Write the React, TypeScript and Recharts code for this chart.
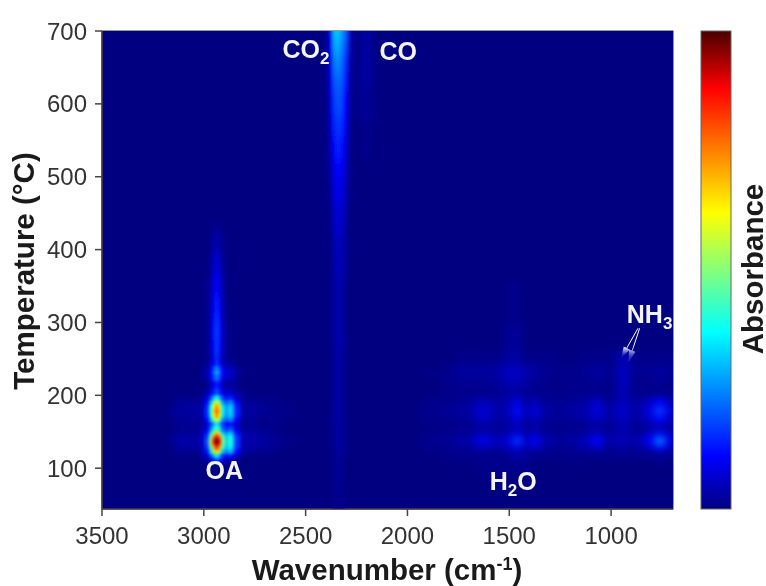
import React from 'react';
import { ComposedChart, Scatter, XAxis, YAxis, ReferenceArea, ReferenceLine } from 'recharts';

const xTicks = [3500, 3000, 2500, 2000, 1500, 1000];
const yTicks = [100, 200, 300, 400, 500, 600, 700];

// jet colour scale, shared by the heatmap and the colour bar
const jetStops: Array<[number, number[]]> = [
  [0, [0, 0, 128]],
  [0.11, [0, 0, 255]],
  [0.37, [0, 255, 255]],
  [0.62, [255, 255, 0]],
  [0.88, [255, 0, 0]],
  [1, [74, 0, 0]],
];

// oleic acid bands
const oaWavenumbers = [3010, 2985, 2965, 2950, 2935, 2920, 2905, 2885, 2870, 2855, 2835, 2800];

// the long faint streak above the peaks
const oaStreakTemps = [410, 380, 350, 320, 290, 260];
const oaStreakValues = [
  [0, 0, 0.01, 0.03, 0.04, 0.03, 0.01, 0, 0, 0, 0, 0],
  [0, 0, 0.02, 0.05, 0.08, 0.05, 0.02, 0, 0, 0, 0, 0],
  [0, 0.01, 0.03, 0.08, 0.11, 0.08, 0.03, 0, 0, 0, 0, 0],
  [0, 0.01, 0.04, 0.1, 0.14, 0.1, 0.04, 0.01, 0, 0, 0, 0],
  [0, 0.01, 0.05, 0.12, 0.17, 0.12, 0.05, 0.01, 0.01, 0, 0, 0],
  [0, 0.01, 0.05, 0.11, 0.17, 0.11, 0.05, 0.01, 0.01, 0, 0, 0],
];

const oaTemps = [245, 236, 230, 224, 214, 204, 196, 190, 184, 178, 172, 166, 160, 154, 148, 144, 140, 136, 132, 128, 122, 116, 110];
const oaValues = [
  [0, 0.01, 0.06, 0.11, 0.17, 0.11, 0.05, 0.02, 0.03, 0.02, 0, 0],
  [0.01, 0.03, 0.09, 0.18, 0.25, 0.18, 0.09, 0.05, 0.06, 0.05, 0.02, 0],
  [0.01, 0.04, 0.11, 0.22, 0.3, 0.22, 0.11, 0.06, 0.08, 0.06, 0.03, 0.01],
  [0.01, 0.03, 0.09, 0.17, 0.24, 0.17, 0.09, 0.05, 0.06, 0.05, 0.02, 0],
  [0, 0.01, 0.05, 0.1, 0.15, 0.1, 0.05, 0.02, 0.03, 0.02, 0.01, 0],
  [0.01, 0.03, 0.08, 0.14, 0.2, 0.14, 0.08, 0.05, 0.06, 0.05, 0.03, 0.01],
  [0.02, 0.07, 0.17, 0.3, 0.38, 0.3, 0.16, 0.12, 0.15, 0.12, 0.06, 0.02],
  [0.03, 0.11, 0.28, 0.48, 0.58, 0.48, 0.26, 0.2, 0.26, 0.2, 0.1, 0.02],
  [0.04, 0.14, 0.36, 0.62, 0.74, 0.62, 0.34, 0.26, 0.33, 0.27, 0.13, 0.03],
  [0.04, 0.15, 0.38, 0.66, 0.79, 0.66, 0.36, 0.27, 0.35, 0.28, 0.14, 0.03],
  [0.04, 0.14, 0.36, 0.62, 0.75, 0.62, 0.34, 0.26, 0.33, 0.27, 0.13, 0.03],
  [0.03, 0.11, 0.28, 0.48, 0.58, 0.48, 0.26, 0.2, 0.26, 0.2, 0.1, 0.02],
  [0.02, 0.06, 0.16, 0.28, 0.36, 0.28, 0.15, 0.11, 0.13, 0.11, 0.05, 0.02],
  [0.03, 0.08, 0.22, 0.36, 0.46, 0.36, 0.2, 0.16, 0.2, 0.16, 0.08, 0.02],
  [0.04, 0.12, 0.32, 0.52, 0.66, 0.52, 0.3, 0.25, 0.31, 0.25, 0.11, 0.03],
  [0.05, 0.16, 0.44, 0.7, 0.85, 0.7, 0.42, 0.31, 0.39, 0.31, 0.15, 0.04],
  [0.05, 0.18, 0.5, 0.82, 0.95, 0.82, 0.48, 0.33, 0.42, 0.33, 0.16, 0.04],
  [0.05, 0.2, 0.54, 0.87, 1, 0.87, 0.5, 0.34, 0.43, 0.34, 0.16, 0.04],
  [0.05, 0.18, 0.5, 0.82, 0.95, 0.82, 0.48, 0.33, 0.42, 0.33, 0.16, 0.04],
  [0.05, 0.16, 0.44, 0.7, 0.85, 0.7, 0.42, 0.31, 0.39, 0.31, 0.15, 0.04],
  [0.04, 0.12, 0.32, 0.52, 0.66, 0.52, 0.3, 0.25, 0.3, 0.25, 0.11, 0.03],
  [0.02, 0.06, 0.16, 0.28, 0.36, 0.28, 0.14, 0.1, 0.13, 0.1, 0.05, 0.01],
  [0.01, 0.02, 0.07, 0.13, 0.18, 0.13, 0.07, 0.03, 0.04, 0.03, 0.01, 0],
];

// CO2 band
const co2Wavenumbers = [2395, 2375, 2360, 2345, 2330, 2315, 2300, 2280];
const co2Temps = [720, 700, 680, 655, 630, 600, 570, 540, 510, 480, 440, 390, 340, 290, 240, 190, 140, 90, 60];
const co2Values = [
  [0.02, 0.13, 0.3, 0.32, 0.3, 0.25, 0.2, 0.06],
  [0.02, 0.13, 0.3, 0.32, 0.3, 0.25, 0.2, 0.06],
  [0.02, 0.12, 0.27, 0.29, 0.27, 0.23, 0.18, 0.05],
  [0.02, 0.1, 0.23, 0.25, 0.24, 0.2, 0.15, 0.04],
  [0.02, 0.09, 0.19, 0.21, 0.21, 0.18, 0.13, 0.03],
  [0.01, 0.08, 0.16, 0.19, 0.19, 0.16, 0.11, 0.02],
  [0.01, 0.07, 0.14, 0.16, 0.16, 0.14, 0.09, 0.02],
  [0.01, 0.05, 0.11, 0.14, 0.14, 0.11, 0.07, 0.01],
  [0.01, 0.04, 0.09, 0.11, 0.11, 0.09, 0.05, 0.01],
  [0, 0.03, 0.07, 0.09, 0.09, 0.07, 0.04, 0.01],
  [0, 0.02, 0.05, 0.07, 0.07, 0.05, 0.03, 0],
  [0, 0.01, 0.03, 0.05, 0.05, 0.04, 0.02, 0],
  [0, 0.01, 0.02, 0.04, 0.04, 0.03, 0.01, 0],
  [0, 0.01, 0.02, 0.04, 0.04, 0.03, 0.01, 0],
  [0, 0.01, 0.02, 0.03, 0.03, 0.02, 0.01, 0],
  [0, 0.01, 0.02, 0.03, 0.03, 0.02, 0.01, 0],
  [0, 0.01, 0.01, 0.03, 0.03, 0.02, 0.01, 0],
  [0, 0, 0.01, 0.02, 0.02, 0.01, 0, 0],
  [0, 0, 0.01, 0.01, 0.01, 0.01, 0, 0],
];

// faint CO band
const coWavenumbers = [2240, 2215, 2190, 2165];
const coTemps = [700, 650, 600, 550];
const coValues = [
  [0.01, 0.03, 0.03, 0.01],
  [0.01, 0.03, 0.03, 0.01],
  [0.01, 0.02, 0.02, 0.01],
  [0, 0.01, 0.01, 0],
];

// H2O and NH3 region
const waterWavenumbers = [1890, 1795, 1720, 1630, 1545, 1500, 1460, 1415, 1365, 1305, 1205, 1130, 1070, 1005, 955, 925, 860, 810, 760, 710];
const waterTemps = [330, 280, 250, 238, 230, 220, 205, 190, 178, 166, 155, 147, 137, 127, 117, 100];
const waterValues = [
  [0, 0, 0, 0, 0, 0.01, 0.01, 0, 0, 0, 0, 0, 0, 0, 0, 0, 0, 0, 0, 0],
  [0, 0, 0, 0, 0, 0.02, 0.02, 0, 0, 0, 0, 0, 0, 0, 0, 0, 0, 0, 0, 0],
  [0, 0, 0.01, 0.01, 0.01, 0.03, 0.03, 0.01, 0.01, 0.01, 0, 0.01, 0.01, 0.01, 0.04, 0.04, 0.01, 0.01, 0.01, 0.01],
  [0, 0.01, 0.02, 0.02, 0.03, 0.05, 0.05, 0.03, 0.02, 0.01, 0.01, 0.01, 0.02, 0.01, 0.05, 0.05, 0.01, 0.01, 0.02, 0.01],
  [0.01, 0.01, 0.03, 0.03, 0.04, 0.06, 0.06, 0.04, 0.03, 0.02, 0.01, 0.02, 0.03, 0.02, 0.06, 0.05, 0.02, 0.02, 0.03, 0.02],
  [0, 0.01, 0.02, 0.02, 0.03, 0.05, 0.05, 0.03, 0.02, 0.01, 0.01, 0.01, 0.02, 0.01, 0.05, 0.05, 0.01, 0.01, 0.02, 0.01],
  [0, 0.01, 0.01, 0.01, 0.02, 0.03, 0.03, 0.02, 0.01, 0.01, 0.01, 0.01, 0.01, 0.01, 0.05, 0.04, 0.01, 0.01, 0.01, 0.01],
  [0.01, 0.01, 0.02, 0.05, 0.03, 0.04, 0.09, 0.03, 0.05, 0.02, 0.02, 0.03, 0.06, 0.02, 0.05, 0.05, 0.03, 0.06, 0.11, 0.05],
  [0.01, 0.02, 0.03, 0.07, 0.04, 0.05, 0.12, 0.05, 0.08, 0.03, 0.03, 0.04, 0.08, 0.04, 0.06, 0.06, 0.04, 0.09, 0.17, 0.08],
  [0.01, 0.01, 0.02, 0.05, 0.03, 0.04, 0.08, 0.03, 0.05, 0.02, 0.02, 0.03, 0.05, 0.03, 0.05, 0.05, 0.03, 0.06, 0.11, 0.05],
  [0, 0.01, 0.01, 0.02, 0.02, 0.02, 0.04, 0.02, 0.02, 0.01, 0.01, 0.01, 0.02, 0.01, 0.04, 0.04, 0.01, 0.02, 0.03, 0.02],
  [0.01, 0.01, 0.02, 0.05, 0.03, 0.05, 0.09, 0.04, 0.06, 0.02, 0.02, 0.03, 0.06, 0.03, 0.04, 0.04, 0.03, 0.06, 0.12, 0.05],
  [0.01, 0.02, 0.04, 0.09, 0.06, 0.09, 0.17, 0.07, 0.11, 0.04, 0.03, 0.05, 0.11, 0.04, 0.05, 0.05, 0.05, 0.11, 0.24, 0.1],
  [0.01, 0.01, 0.02, 0.05, 0.03, 0.05, 0.09, 0.04, 0.06, 0.02, 0.02, 0.03, 0.06, 0.02, 0.03, 0.03, 0.03, 0.06, 0.12, 0.05],
  [0, 0.01, 0.01, 0.01, 0.01, 0.02, 0.03, 0.02, 0.01, 0.01, 0.01, 0.01, 0.01, 0.01, 0.01, 0.01, 0.01, 0.01, 0.02, 0.01],
  [0, 0, 0, 0.01, 0.01, 0.01, 0.01, 0.01, 0, 0, 0, 0, 0, 0, 0, 0, 0, 0, 0, 0],
];

// faint shoulders either side of the OA bands
const sideWavenumbers = [3150, 3100, 3060, 2760, 2700, 2640, 2580];
const sideTemps = [190, 178, 166, 147, 137, 127];
const sideValues = [
  [0, 0.01, 0.02, 0.02, 0.01, 0.01, 0],
  [0.01, 0.02, 0.03, 0.03, 0.02, 0.01, 0.01],
  [0, 0.01, 0.02, 0.02, 0.01, 0.01, 0],
  [0, 0.01, 0.02, 0.03, 0.02, 0.01, 0],
  [0.01, 0.02, 0.04, 0.04, 0.03, 0.02, 0.01],
  [0, 0.01, 0.02, 0.03, 0.02, 0.01, 0],
];

const bandLabels = [
  { wn: 2614, temp: 663, text: 'CO', sub: '2' },
  { wn: 2137, temp: 660, text: 'CO', sub: '' },
  { wn: 2992, temp: 85, text: 'OA', sub: '' },
  { wn: 1596, temp: 70, text: 'H', sub: '2', rest: 'O' },
  { wn: 923, temp: 299, text: 'NH', sub: '3' },
];

const WN_MIN = 696;
const WN_MAX = 3500;
const T_MIN = 44;
const T_MAX = 700;
const PLOT_W = 571;
const PLOT_H = 478;

const jet = (v: number) => {
  for (let i = 1; i < jetStops.length; i++) {
    const [b, cb] = jetStops[i];
    const [a, ca] = jetStops[i - 1];
    if (v <= b) {
      const f = (v - a) / (b - a);
      const c = ca.map((x, k) => Math.round(x + (cb[k] - x) * f));
      return `rgb(${c[0]},${c[1]},${c[2]})`;
    }
  }
  return 'rgb(74,0,0)';
};

const cellSpan = (list: number[], i: number) => {
  const prev = i > 0 ? Math.abs(list[i] - list[i - 1]) : Math.abs(list[i + 1] - list[i]);
  const next = i < list.length - 1 ? Math.abs(list[i + 1] - list[i]) : prev;
  return (prev + next) / 2;
};

const toCells = (wns: number[], temps: number[], grid: number[][]) => {
  const out: Array<{ wn: number; temp: number; value: number; dw: number; dt: number }> = [];
  temps.forEach((temp, r) => {
    wns.forEach((wn, c) => {
      if (grid[r][c] > 0) {
        out.push({ wn, temp, value: grid[r][c], dw: cellSpan(wns, c), dt: cellSpan(temps, r) });
      }
    });
  });
  return out;
};

const HeatCell = (props: any) => {
  const { cx, cy, payload } = props;
  const w = (payload.dw * PLOT_W) / (WN_MAX - WN_MIN) + 0.6;
  const h = (payload.dt * PLOT_H) / (T_MAX - T_MIN) + 0.6;
  return <rect x={cx - w / 2} y={cy - h / 2} width={w} height={h} fill={jet(payload.value)} />;
};

const BandLabel = (props: any) => {
  const { cx, cy, payload } = props;
  return (
    <text x={cx} y={cy} fill="#f4f4f4" fontSize={25} fontWeight={700} fontFamily="Liberation Sans">
      {payload.text}
      {payload.sub && (
        <tspan dy={6} fontSize={17}>
          {payload.sub}
        </tspan>
      )}
      {payload.rest && (
        <tspan dy={-6} fontSize={25}>
          {payload.rest}
        </tspan>
      )}
    </text>
  );
};

const softLayers = [
  toCells(sideWavenumbers, sideTemps, sideValues),
  toCells(waterWavenumbers, waterTemps, waterValues),
  toCells(coWavenumbers, coTemps, coValues),
];
const streakLayers = [
  toCells(co2Wavenumbers, co2Temps, co2Values),
  toCells(oaWavenumbers, oaStreakTemps, oaStreakValues),
];
const peakCells = toCells(oaWavenumbers, oaTemps, oaValues);

const tickStyle = { fontSize: 24, fill: '#333', fontFamily: 'Liberation Sans' };
const axisLine = { stroke: '#444', strokeWidth: 1.5 };

export default function App() {
  return (
    <div style={{ position: 'absolute', left: 0, top: 0, width: 766, height: 586, overflow: 'hidden', filter: 'blur(0.5px)' }}>
      <style>{`.heat-soft { filter: blur(3.5px); clip-path: url(#plotClip); }
.heat-streak { filter: url(#streakBlur); clip-path: url(#plotClip); }
.heat-peak { filter: blur(1.5px); clip-path: url(#plotClip); }`}</style>
      <ComposedChart
        width={766}
        height={586}
        margin={{ top: 31, right: 93, bottom: 0, left: 0 }}
      >
        <defs>
          <clipPath id="plotClip">
            <rect x={102} y={31} width={PLOT_W} height={PLOT_H} />
          </clipPath>
          <filter id="streakBlur" x="-30%" y="-10%" width="160%" height="120%">
            <feGaussianBlur stdDeviation="1.6 7" />
          </filter>
          <linearGradient id="jetBar" x1="0" y1="1" x2="0" y2="0">
            {jetStops.map(([v]) => (
              <stop key={v} offset={v} stopColor={jet(v)} />
            ))}
          </linearGradient>
          <marker id="tip" markerUnits="userSpaceOnUse" markerWidth="12" markerHeight="8" refX="11" refY="4" orient="auto">
            <path d="M0,0.5 L12,4 L0,7.5 Z" fill="#ffffff" />
          </marker>
        </defs>
        <XAxis
          type="number"
          dataKey="wn"
          reversed
          domain={[WN_MIN, WN_MAX]}
          ticks={xTicks}
          height={77}
          tick={tickStyle}
          tickSize={7}
          tickMargin={11}
          axisLine={axisLine}
          tickLine={axisLine}
          interval={0}
          allowDataOverflow
        />
        <YAxis
          type="number"
          dataKey="temp"
          domain={[T_MIN, T_MAX]}
          ticks={yTicks}
          width={102}
          tick={tickStyle}
          tickSize={7}
          tickMargin={8}
          axisLine={axisLine}
          tickLine={axisLine}
          interval={0}
          allowDataOverflow
        />
        <ReferenceArea x1={WN_MIN} x2={WN_MAX} y1={T_MIN} y2={T_MAX} fill="#000080" fillOpacity={1} stroke="none" />
        {softLayers.map((cells, i) => (
          <Scatter key={i} className="heat-soft" data={cells} shape={HeatCell} isAnimationActive={false} />
        ))}
        {streakLayers.map((cells, i) => (
          <Scatter key={i} className="heat-streak" data={cells} shape={HeatCell} isAnimationActive={false} />
        ))}
        <Scatter className="heat-peak" data={peakCells} shape={HeatCell} isAnimationActive={false} />
        <ReferenceLine segment={[{ x: 868, y: 292 }, { x: 949, y: 252 }]} stroke="#ffffff" strokeWidth={1} markerEnd="url(#tip)" />
        <ReferenceLine segment={[{ x: 860, y: 292 }, { x: 913, y: 247 }]} stroke="#ffffff" strokeWidth={1} markerEnd="url(#tip)" />
        <Scatter data={bandLabels} shape={BandLabel} isAnimationActive={false} />
        <rect x={102} y={31} width={PLOT_W} height={PLOT_H} fill="none" stroke="#333" strokeWidth={1} />
        <rect x={701} y={31} width={30} height={478} fill="url(#jetBar)" stroke="#666" strokeWidth={1} />
        <text x={387} y={580} textAnchor="middle" fontSize={29.5} fontWeight={700} fill="#1a1a1a" fontFamily="Liberation Sans">
          Wavenumber (cm
          <tspan dy={-10} fontSize={18}>-1</tspan>
          <tspan dy={10}>)</tspan>
        </text>
        <text x={34} y={271} transform="rotate(-90 34 271)" textAnchor="middle" fontSize={29.5} fontWeight={700} fill="#1a1a1a" fontFamily="Liberation Sans">
          Temperature (°C)
        </text>
        <text x={763} y={269} transform="rotate(-90 763 269)" textAnchor="middle" fontSize={29.5} fontWeight={700} fill="#1a1a1a" fontFamily="Liberation Sans">
          Absorbance
        </text>
      </ComposedChart>
    </div>
  );
}
